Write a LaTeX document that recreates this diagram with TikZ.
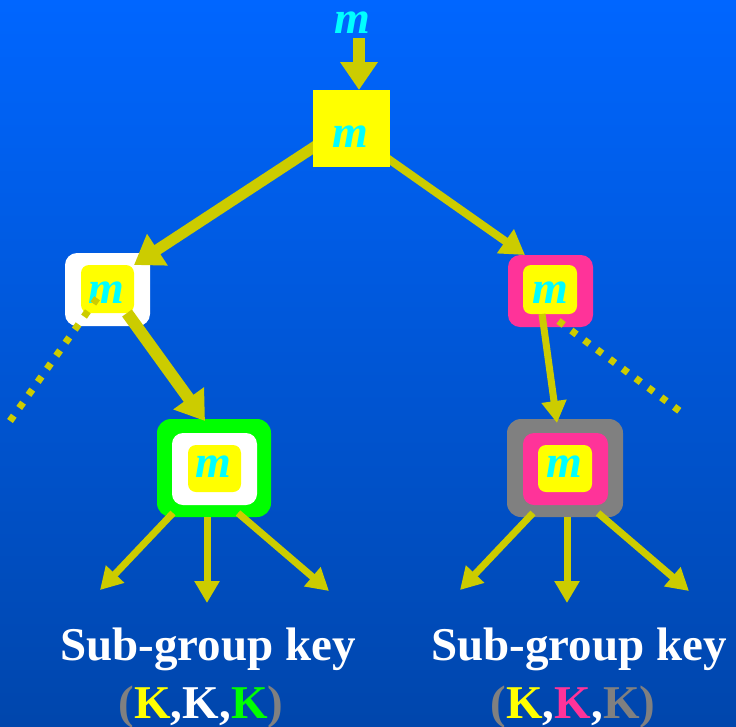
\documentclass[tikz,border=0pt]{standalone}
\usepackage{fontspec}
\setmainfont{Liberation Serif}
\usetikzlibrary{arrows.meta,calc}
\pgfdeclarelayer{front}
\pgfsetlayers{main,front}
\definecolor{bgtop}{HTML}{0066FF}
\definecolor{bgbot}{HTML}{0046AC}
\definecolor{olive}{HTML}{CCCC00}
\definecolor{keyyellow}{HTML}{FFFF00}
\definecolor{keypink}{HTML}{FF3399}
\definecolor{keygreen}{HTML}{00FF00}
\definecolor{keygray}{HTML}{808080}
\definecolor{msg}{HTML}{00FFFF}
\tikzset{
  box/.style={rectangle, inner sep=0pt, outer sep=0pt},
  mlabel/.style={inner sep=0pt, anchor=base, text=msg,
    font=\fontsize{46}{46}\selectfont\bfseries\itshape},
  keytext/.style={inner sep=0pt, anchor=base, text=white,
    font=\fontsize{47}{47}\selectfont\bfseries},
  bigarrow/.style={draw=olive, line width=12pt,
    -{Triangle[length=28pt,width=36pt]}},
  midarrow/.style={draw=olive, line width=8pt,
    -{Triangle[length=24pt,width=28pt]}},
  thinarrow/.style={draw=olive, line width=7pt,
    -{Triangle[length=22pt,width=24pt]}},
  dotline/.style={draw=olive, line width=7pt, dash pattern=on 6.5pt off 9.5pt},
}
\begin{document}
\begin{tikzpicture}[x=1pt,y=-1pt]
  % backdrop
  \shade[top color=bgtop, bottom color=bgbot] (0,0) rectangle (736,726);
  \useasboundingbox (0,0) rectangle (736,726);

  % message entering the tree
  \node[mlabel] (mtop) at (352,33) {m};

  % root member
  \begin{pgfonlayer}{front}
    \node[box, fill=keyyellow, minimum width=77pt, minimum height=77pt]
      (root) at (351.5,128.5) {};
    \node[mlabel] at (350,147) {m};
  \end{pgfonlayer}

  % second level, left
  \node[box, fill=white, rounded corners=12pt, minimum width=85pt, minimum height=73pt]
    (left) at (107.5,289.5) {};
  \node[box, fill=keyyellow, rounded corners=8pt, minimum width=53pt, minimum height=48pt]
    (leftin) at (107.5,289) {};
  \node[mlabel] at (106,303) {m};

  % second level, right
  \node[box, fill=keypink, rounded corners=12pt, minimum width=85pt, minimum height=72pt]
    (right) at (550.5,291) {};
  \node[box, fill=keyyellow, rounded corners=8pt, minimum width=54pt, minimum height=49pt]
    (rightin) at (550,289.5) {};
  \node[mlabel] at (550,303) {m};

  % third level, left
  \node[box, fill=keygreen, rounded corners=14pt, minimum width=114pt, minimum height=98pt]
    (bl) at (214,468) {};
  \node[box, fill=white, rounded corners=11pt, minimum width=85pt, minimum height=72pt]
    (blmid) at (214.5,469) {};
  \node[box, fill=keyyellow, rounded corners=8pt, minimum width=53pt, minimum height=47pt]
    (blin) at (214.5,468.5) {};
  \node[mlabel] at (213.5,477) {m};

  % third level, right
  \node[box, fill=keygray, rounded corners=14pt, minimum width=116pt, minimum height=98pt]
    (br) at (565,468) {};
  \node[box, fill=keypink, rounded corners=11pt, minimum width=85pt, minimum height=72pt]
    (brmid) at (565.5,469) {};
  \node[box, fill=keyyellow, rounded corners=8pt, minimum width=54pt, minimum height=47pt]
    (brin) at (565,468.5) {};
  \node[mlabel] at (564,477) {m};

  % connectors
  \draw[bigarrow] ($(mtop.base)+(7,5)$) -- ($(root.north)+(7.5,0)$);
  \draw[bigarrow, line width=11pt] ($(root.center)+(0,-6)$) -- (leftin.north east);
  \draw[midarrow] ($(root.center)+(0,4.5)$) -- ($(right.north)+(-25.5,0)$);
  \draw[bigarrow] ($(leftin.south east)+(-7,0)$) -- ($(bl.north)+(-9,2)$);
  \draw[thinarrow] ($(rightin.south)+(-8,0)$) -- ($(br.north)+(-8,4)$);

  % branches leading elsewhere
  \coordinate (lfar) at (10,421);
  \coordinate (rfar) at (681,412);
  \draw[dotline] (lfar) -- ($(leftin.center)+(-6,3)$);
  \draw[dotline] ($(right.south)+(8,-6)$) -- (rfar);

  % fan-out to sub-group members
  \coordinate (bla) at (100,590);
  \coordinate (blb) at (207,603);
  \coordinate (blc) at (329,591);
  \coordinate (bra) at (460,590);
  \coordinate (brb) at (567,603);
  \coordinate (brc) at (689,591);
  \draw[thinarrow] ($(bl.south)+(-41,-4)$) -- (bla);
  \draw[thinarrow] ($(bl.south)+(-7,0)$) -- (blb);
  \draw[thinarrow] ($(bl.south)+(24,-4)$) -- (blc);
  \draw[thinarrow] ($(br.south)+(-32,-4)$) -- (bra);
  \draw[thinarrow] ($(br.south)+(2,0)$) -- (brb);
  \draw[thinarrow] ($(br.south)+(33,-4)$) -- (brc);

  % sub-group keys
  \node[keytext] (keyl) at (208,660) {Sub-group key};
  \node[keytext] (tupl) at (201,718)
    {\textcolor{keygray}{(}\textcolor{keyyellow}{K},K,\textcolor{keygreen}{K}\textcolor{keygray}{)}};
  \node[keytext] (keyr) at (579,660) {Sub-group key};
  \node[keytext] (tupr) at (573,718)
    {\textcolor{keygray}{(}\textcolor{keyyellow}{K},\textcolor{keypink}{K},\textcolor{keygray}{K}\textcolor{keygray}{)}};
\end{tikzpicture}
\end{document}
